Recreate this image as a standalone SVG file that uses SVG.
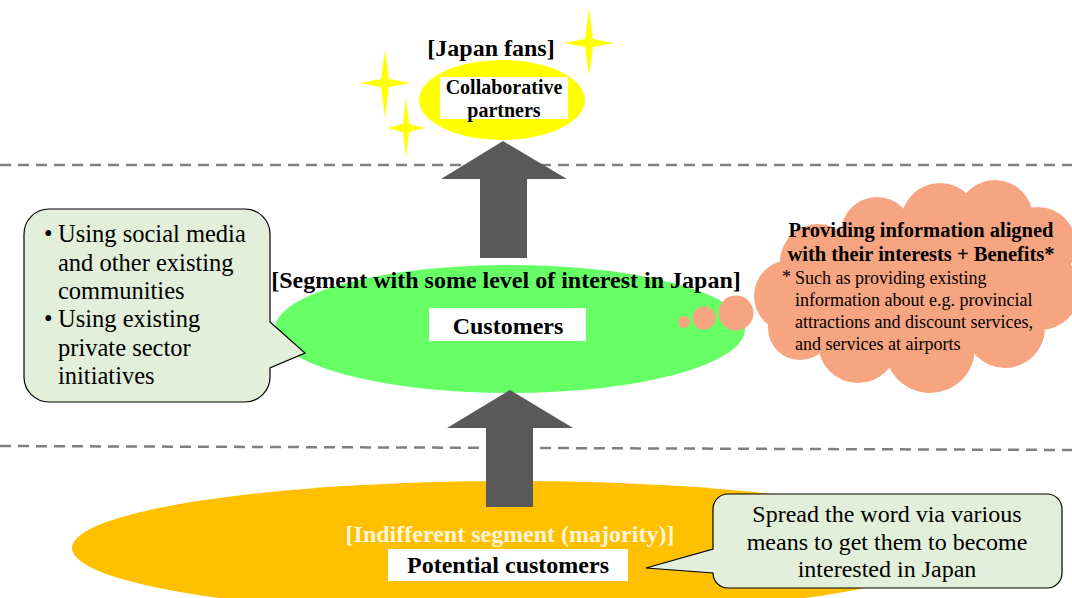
<svg xmlns="http://www.w3.org/2000/svg" width="1072" height="598" viewBox="0 0 1072 598" font-family="Liberation Serif, Times New Roman, serif">
<style>
text{font-family:'Liberation Serif','Times New Roman',serif;fill:#000}
.b{font-weight:bold}
.dash{stroke:#7F7F7F;stroke-width:2.5;stroke-dasharray:11 7;fill:none}
.arrow{fill:#595959}
.box{fill:#fff}
.call{fill:#E2EFDA;stroke:#000;stroke-width:1.2}
.cloud{fill:#F7A480}
.star{fill:#FFFF00}
</style>
<rect width="1072" height="598" fill="#fff"/>

<g id="dividers">
<line class="dash" x1="0" y1="165" x2="1072" y2="165"/>
<line class="dash" x1="0" y1="446" x2="1072" y2="450"/>
</g>

<g id="potential-customers">
<ellipse cx="512" cy="548" rx="440" ry="67" fill="#FFC000"/>
<text class="b" x="510" y="542" font-size="24" text-anchor="middle" style="fill:#FFF5D9">[Indifferent segment (majority)]</text>
<rect class="box" x="388" y="549" width="240" height="32"/>
<text class="b" x="508" y="573" font-size="24" text-anchor="middle">Potential customers</text>
</g>

<g id="customers">
<ellipse cx="510" cy="329" rx="235" ry="64" fill="#66FF66"/>
<text class="b" x="506" y="288" font-size="24" text-anchor="middle">[Segment with some level of interest in Japan]</text>
<rect class="box" x="429" y="308" width="157" height="33"/>
<text class="b" x="508" y="334" font-size="24" text-anchor="middle">Customers</text>
</g>

<g id="japan-fans">
<ellipse cx="502" cy="100" rx="83" ry="40" fill="#FFFF00"/>
<text class="b" x="491" y="56" font-size="24" text-anchor="middle">[Japan fans]</text>
<rect class="box" x="440" y="77" width="128" height="42"/>
<text class="b" x="504" y="94" font-size="20" text-anchor="middle">Collaborative</text>
<text class="b" x="504" y="117" font-size="20" text-anchor="middle">partners</text>
</g>

<g id="stars">
<path class="star" d="M385,50 L389,79 L410,83 L389,87 L385,118 L381,87 L360,83 L381,79 Z"/>
<path class="star" d="M406,97 L409,124 L425,128 L409,132 L406,157 L403,132 L387,128 L403,124 Z"/>
<path class="star" d="M589,8 L593,39 L614,43 L593,47 L589,76 L585,47 L564,43 L585,39 Z"/>
</g>

<g id="connectors">
<path class="arrow" d="M503,141 L567,179 L527,179 L527,258 L480,258 L480,179 L441,179 Z"/>
<path class="arrow" d="M510,390 L573,428 L533,428 L533,507 L486,507 L486,428 L447,428 Z"/>
</g>

<g id="left-callout">
<path class="call" d="M49,209 H245 A25,25 0 0 1 270,234 V322 L305,353 L270,368 V377 A25,25 0 0 1 245,402 H49 A25,25 0 0 1 24,377 V234 A25,25 0 0 1 49,209 Z"/>
<g font-size="24.5">
<text x="44" y="242">•</text>
<text x="58" y="242">Using social media</text>
<text x="58" y="271">and other existing</text>
<text x="58" y="299">communities</text>
<text x="44" y="327">•</text>
<text x="58" y="327">Using existing</text>
<text x="58" y="356">private sector</text>
<text x="58" y="384">initiatives</text>
</g>
</g>

<g id="benefits-cloud">
<circle class="cloud" cx="684" cy="322" r="6"/>
<circle class="cloud" cx="704" cy="318" r="11.5"/>
<circle class="cloud" cx="736" cy="313" r="17.5"/>
<circle class="cloud" cx="818" cy="262" r="38"/>
<circle class="cloud" cx="790" cy="296" r="36"/>
<circle class="cloud" cx="800" cy="328" r="32"/>
<circle class="cloud" cx="858" cy="343" r="40"/>
<circle class="cloud" cx="930" cy="348" r="45"/>
<circle class="cloud" cx="1005" cy="328" r="40"/>
<circle class="cloud" cx="1040" cy="290" r="40"/>
<circle class="cloud" cx="1038" cy="245" r="38"/>
<circle class="cloud" cx="995" cy="218" r="38"/>
<circle class="cloud" cx="940" cy="222" r="39"/>
<circle class="cloud" cx="877" cy="233" r="36"/>
<ellipse class="cloud" cx="920" cy="288" rx="135" ry="70"/>
<text class="b" x="921" y="237" font-size="20.5" text-anchor="middle">Providing information aligned</text>
<text class="b" x="921" y="261" font-size="20.5" text-anchor="middle">with their interests + Benefits*</text>
<g font-size="18">
<text x="782" y="283">*</text>
<text x="795" y="284">Such as providing existing</text>
<text x="795" y="306">information about e.g. provincial</text>
<text x="795" y="328">attractions and discount services,</text>
<text x="795" y="350">and services at airports</text>
</g>
</g>

<g id="right-callout">
<path class="call" d="M728,494 H1047 A15,15 0 0 1 1062,509 V573 A15,15 0 0 1 1047,588 H728 A15,15 0 0 1 713,573 L646,568 L713,549 V509 A15,15 0 0 1 728,494 Z"/>
<g font-size="24" text-anchor="middle">
<text x="887" y="522">Spread the word via various</text>
<text x="887" y="550">means to get them to become</text>
<text x="887" y="577">interested in Japan</text>
</g>
</g>
</svg>
